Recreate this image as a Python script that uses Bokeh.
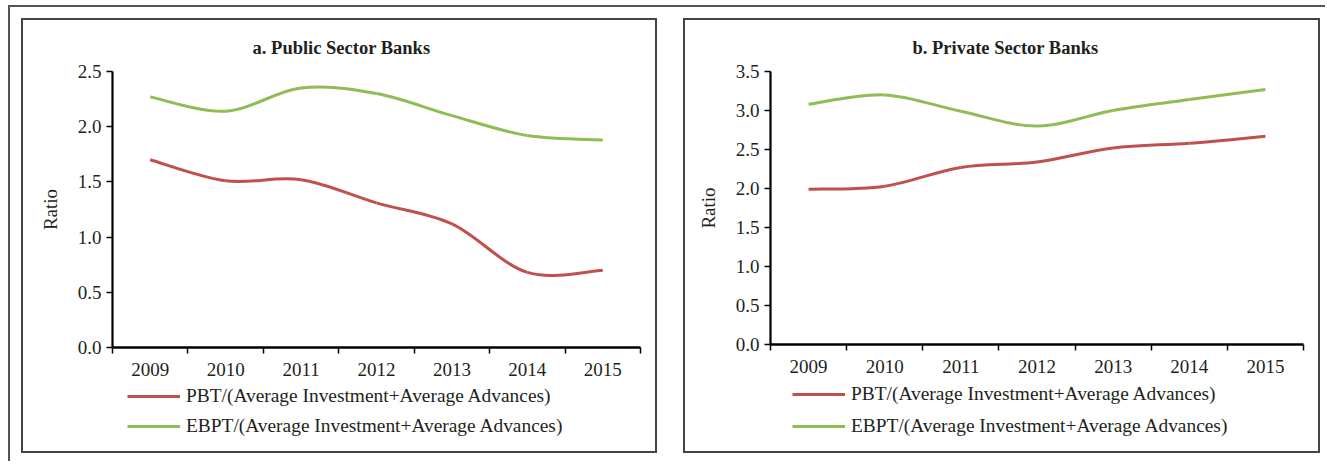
from bokeh.plotting import figure
from bokeh.models import (Range1d, FixedTicker, Label, Legend, LegendItem,
                          ColumnDataSource, NumeralTickFormatter)
from bokeh.layouts import row
from bokeh.embed import file_html
from bokeh.resources import INLINE

# ---- data ----
years = ["2009", "2010", "2011", "2012", "2013", "2014", "2015"]
pub_pbt = [1.70, 1.51, 1.52, 1.31, 1.12, 0.68, 0.70]
pub_ebpt = [2.27, 2.14, 2.35, 2.30, 2.10, 1.92, 1.88]
pvt_pbt = [1.99, 2.03, 2.27, 2.34, 2.52, 2.58, 2.67]
pvt_ebpt = [3.08, 3.20, 2.99, 2.80, 3.00, 3.14, 3.27]
pub_yticks = [0.0, 0.5, 1.0, 1.5, 2.0, 2.5]
pvt_yticks = [0.0, 0.5, 1.0, 1.5, 2.0, 2.5, 3.0, 3.5]
series_labels = ["PBT/(Average Investment+Average Advances)",
                 "EBPT/(Average Investment+Average Advances)"]
titles = ["a. Public Sector Banks", "b. Private Sector Banks"]

FONT = "Liberation Serif"
TXT = "#231f20"
RED = "#C0504D"
GREEN = "#8FBC55"
H = 435


def smooth_source(xs, ys):
    """Bezier segments through the data points (smoothed line rendering)."""
    n = len(xs)
    d = dict(x0=[], y0=[], x1=[], y1=[], cx0=[], cy0=[], cx1=[], cy1=[])
    for i in range(n - 1):
        xa, ya = (xs[i - 1], ys[i - 1]) if i > 0 else (xs[i], ys[i])
        xd, yd = (xs[i + 2], ys[i + 2]) if i + 2 < n else (xs[i + 1], ys[i + 1])
        d["x0"].append(xs[i]); d["y0"].append(ys[i])
        d["x1"].append(xs[i + 1]); d["y1"].append(ys[i + 1])
        d["cx0"].append(xs[i] + (xs[i + 1] - xa) / 6.0)
        d["cy0"].append(ys[i] + (ys[i + 1] - ya) / 6.0)
        d["cx1"].append(xs[i + 1] - (xd - xs[i]) / 6.0)
        d["cy1"].append(ys[i + 1] - (yd - ys[i]) / 6.0)
    return ColumnDataSource(d)


def make_panel(title, pbt, ebpt, yticks, width, ax_l, ax_r, ax_t, ax_b,
               title_xy, leg_xy, leg_spacing, margin):
    """ax_* : pixel position (inside the panel) of the axes box."""
    n = len(years)
    xpos = [i + 0.5 for i in range(n)]
    ymin, ymax = yticks[0], yticks[-1]
    sx = (ax_r - ax_l) / n
    sy = (ax_b - ax_t) / (ymax - ymin)
    xr = Range1d(0 - ax_l / sx, n + (width - ax_r) / sx)
    yr = Range1d(ymin - (H - ax_b) / sy, ymax + ax_t / sy)
    p = figure(width=width, height=H, x_range=xr, y_range=yr,
               output_backend="svg", toolbar_location=None,
               min_border=0, min_border_left=0, min_border_right=0,
               min_border_top=0, min_border_bottom=0)
    p.margin = margin
    p.styles = {"border": "2px solid #444444", "box-sizing": "border-box"}
    p.grid.visible = False
    p.outline_line_color = None
    p.background_fill_color = "white"
    p.border_fill_color = "white"

    # x axis: labels at category centres, ticks at category boundaries
    xa = p.xaxis[0]
    xa.fixed_location = ymin
    xa.bounds = (0, n)
    xa.ticker = FixedTicker(ticks=xpos, minor_ticks=list(range(n + 1)))
    xa.major_label_overrides = {x: y for x, y in zip(xpos, years)}
    xa.major_tick_out = 0
    xa.major_tick_in = 0
    xa.minor_tick_out = 6
    xa.minor_tick_in = 0
    xa.minor_tick_line_color = "black"
    xa.minor_tick_line_width = 1.5
    xa.axis_line_color = "black"
    xa.axis_line_width = 2.5
    xa.major_label_standoff = 9
    xa.major_label_text_font = FONT
    xa.major_label_text_font_size = "19px"
    xa.major_label_text_color = TXT

    ya = p.yaxis[0]
    ya.fixed_location = 0
    ya.bounds = (ymin, ymax)
    ya.ticker = FixedTicker(ticks=yticks)
    ya.formatter = NumeralTickFormatter(format="0.0")
    ya.major_tick_out = 6
    ya.major_tick_in = 0
    ya.minor_tick_line_color = None
    ya.major_tick_line_color = "black"
    ya.major_tick_line_width = 1.5
    ya.axis_line_color = "black"
    ya.axis_line_width = 2.2
    ya.major_label_standoff = 5
    ya.major_label_text_font = FONT
    ya.major_label_text_font_size = "19px"
    ya.major_label_text_color = TXT
    ya.axis_label = "Ratio"
    ya.axis_label_text_font = FONT
    ya.axis_label_text_font_size = "19px"
    ya.axis_label_text_font_style = "normal"
    ya.axis_label_text_color = TXT
    ya.axis_label_standoff = 14

    r1 = p.bezier(x0="x0", y0="y0", x1="x1", y1="y1", cx0="cx0", cy0="cy0",
                  cx1="cx1", cy1="cy1", source=smooth_source(xpos, pbt),
                  line_color=RED, line_width=3)
    r2 = p.bezier(x0="x0", y0="y0", x1="x1", y1="y1", cx0="cx0", cy0="cy0",
                  cx1="cx1", cy1="cy1", source=smooth_source(xpos, ebpt),
                  line_color=GREEN, line_width=3)

    legend = Legend(items=[LegendItem(label=series_labels[0], renderers=[r1]),
                           LegendItem(label=series_labels[1], renderers=[r2])],
                    location=leg_xy, orientation="vertical",
                    padding=0, margin=0, spacing=leg_spacing,
                    glyph_width=53, glyph_height=20, label_height=20,
                    label_standoff=6, label_text_font=FONT,
                    label_text_font_size="19.4px", label_text_color=TXT,
                    border_line_color=None, background_fill_alpha=0)
    p.add_layout(legend)

    p.add_layout(Label(x=title_xy[0], y=title_xy[1], x_units="screen",
                       y_units="screen", text=title, text_align="center",
                       text_baseline="middle", text_font=FONT,
                       text_font_size="18.5px", text_font_style="bold",
                       text_color=TXT))
    return p


# panels: left box 23..659, right box 685..1322, both y 20..455
p1 = make_panel(titles[0], pub_pbt, pub_ebpt, pub_yticks, 636,
                89, 617, 51, 327, (318, 408), (104, 18), 8, (11, 0, 8, 11))
p2 = make_panel(titles[1], pvt_pbt, pvt_ebpt, pvt_yticks, 637,
                85, 618, 51, 324, (320, 408), (107, 18), 10, (11, 5, 8, 26))

# outer page frame (top and left rules)
layout = row(p1, p2, spacing=0, margin=(5, 0, 0, 8),
             styles={"border-top": "2px solid #555555",
                     "border-left": "2px solid #555555"})
open("out.html", "w").write(file_html(layout, INLINE))
